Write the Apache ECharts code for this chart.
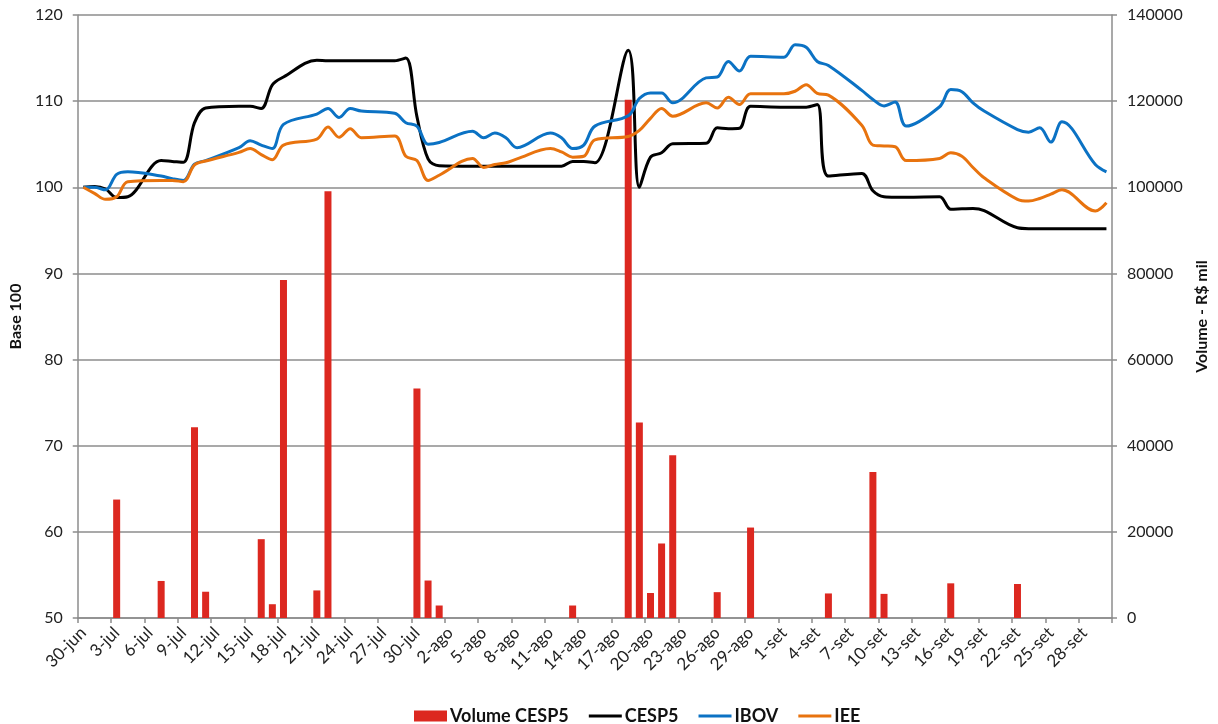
<!DOCTYPE html>
<html>
<head>
<meta charset="utf-8">
<script src="https://cdn.jsdelivr.net/npm/echarts@6/dist/echarts.min.js"></script>
<style>
html,body{margin:0;padding:0;background:#fff;}
#chart{width:1218px;height:724px;}
</style>
</head>
<body>
<div id="chart"></div>
<script>
// Category labels: every day from 30-jun to 30-set
const monthSpans = [['jun', 30, 30], ['jul', 1, 31], ['ago', 1, 31], ['set', 1, 30]];
const categories = [];
monthSpans.forEach(function (m) { for (let d = m[1]; d <= m[2]; d++) categories.push(d + '-' + m[0]); });

// Each row = one week Mon..Sun (weekends have no trading data)
const volumeCESP5 = [
  null, null, null, 27500, null, null, null,
  8600, null, null, 44300, 6100, null, null,
  null, null, 18300, 3200, 78500, null, null,
  6400, 99100, null, null, null, null, null,
  null, null, 53300, 8700, 2900, null, null,
  null, null, null, null, null, null, null,
  null, null, 2900, null, null, null, null,
  120300, 45400, 5800, 17300, 37800, null, null,
  null, 6000, null, null, 21000, null, null,
  null, null, null, null, 5700, null, null,
  null, 33900, 5600, null, null, null, null,
  null, 8050, null, null, null, null, null,
  7900, null, null, null, null, null, null,
  null, null
];
const cesp5 = [
  100.0, 100.1, 99.8, 98.8, 98.9, null, null,
  103.1, 103.0, 102.9, 107.5, 109.2, null, null,
  109.4, 109.4, 109.15, 111.9, 112.8, null, null,
  114.75, 114.7, 114.7, 114.7, 114.7, null, null,
  114.7, 115.0, 108.2, 103.3, 102.5, null, null,
  102.45, 102.45, 102.45, 102.45, 102.45, null, null,
  102.45, 102.45, 103.0, 103.0, 102.85, null, null,
  115.9, 100.0, 103.5, 104.0, 105.05, null, null,
  105.1, 106.9, 106.8, 106.85, 109.4, null, null,
  109.3, 109.3, 109.3, 109.6, 101.3, null, null,
  101.6, 99.6, 98.9, 98.85, 98.85, null, null,
  98.9, 97.45, 97.5, 97.55, 97.3, null, null,
  95.3, 95.2, 95.2, 95.2, 95.2, null, null,
  95.2, 95.2
];
const ibov = [
  100.0, 100.0, 99.7, 101.5, 101.8, null, null,
  101.3, 101.0, 100.8, 102.7, 103.1, null, null,
  104.6, 105.4, 104.9, 104.5, 107.3, null, null,
  108.5, 109.15, 108.1, 109.15, 108.85, null, null,
  108.6, 107.5, 107.1, 105.0, 105.2, null, null,
  106.5, 105.75, 106.3, 105.75, 104.6, null, null,
  106.3, 105.75, 104.5, 104.9, 107.1, null, null,
  108.3, 110.3, 110.95, 110.95, 109.8, null, null,
  112.7, 112.8, 114.6, 113.5, 115.2, null, null,
  115.1, 116.55, 116.25, 114.6, 114.15, null, null,
  111.25, 110.2, 109.45, 109.9, 107.1, null, null,
  109.35, 111.35, 111.1, 109.8, 108.85, null, null,
  106.7, 106.4, 106.9, 105.25, 107.6, null, null,
  102.65, 101.8
];
const iee = [
  100.0, 99.3, 98.6, 98.9, 100.65, null, null,
  100.8, 100.8, 100.65, 102.6, 103.05, null, null,
  104.05, 104.5, 103.8, 103.2, 104.9, null, null,
  105.6, 107.0, 105.8, 106.8, 105.75, null, null,
  105.95, 103.6, 103.1, 100.8, 101.4, null, null,
  103.35, 102.3, 102.65, 102.85, 103.3, null, null,
  104.5, 104.1, 103.5, 103.6, 105.5, null, null,
  105.9, 106.6, 108.0, 109.15, 108.25, null, null,
  109.8, 109.2, 110.45, 109.6, 110.85, null, null,
  110.85, 111.15, 111.9, 110.9, 110.7, null, null,
  107.2, 104.9, 104.8, 104.7, 103.1, null, null,
  103.35, 104.0, 103.6, 102.3, 101.1, null, null,
  98.6, 98.4, 98.7, 99.2, 99.7, null, null,
  97.25, 98.2
];
const leftTicks = { min: 50, max: 120, interval: 10 };
const rightTicks = { min: 0, max: 140000, interval: 20000 };

const FONT = 'Lato, "Open Sans", sans-serif';
const AXIS_GRAY = '#8c8c8c';
const LINE_ICON = 'path://M0,0 L34,0 L34,3.2 L0,3.2 Z';
const chart = echarts.init(document.getElementById('chart'));
const lineCommon = { type: 'line', yAxisIndex: 0, symbol: 'none', smooth: 0.35, connectNulls: true, z: 3 };
chart.setOption({
  animation: false,
  textStyle: { fontFamily: FONT },
  grid: { left: 73, right: 97, top: 15, bottom: 106, containLabel: false },
  legend: {
    top: 702, left: 409, itemGap: 20, itemWidth: 33, itemHeight: 11,
    textStyle: { fontFamily: FONT, fontSize: 18, fontWeight: 'bold', color: '#111', padding: [0, 0, 0, -2] },
    data: [
      { name: 'Volume CESP5', icon: 'rect' },
      { name: 'CESP5', icon: LINE_ICON },
      { name: 'IBOV', icon: LINE_ICON },
      { name: 'IEE', icon: LINE_ICON }
    ]
  },
  xAxis: {
    type: 'category', data: categories, boundaryGap: true,
    axisLine: { lineStyle: { color: AXIS_GRAY, width: 1.5 } },
    axisTick: { show: true, interval: 2, length: 5, lineStyle: { color: AXIS_GRAY, width: 1.5 } },
    axisLabel: { interval: 2, rotate: 45, fontSize: 17, color: '#222', margin: 12, fontFamily: FONT }
  },
  yAxis: [
    {
      type: 'value', min: leftTicks.min, max: leftTicks.max, interval: leftTicks.interval,
      name: 'Base 100', nameLocation: 'middle', nameRotate: 90, nameGap: 52,
      nameTextStyle: { fontFamily: FONT, fontSize: 16, fontWeight: 'bold', color: '#111' },
      axisLine: { show: true, lineStyle: { color: AXIS_GRAY, width: 1.5 } },
      axisTick: { show: true, length: 5, lineStyle: { color: AXIS_GRAY, width: 1.5 } },
      axisLabel: { fontSize: 16, color: '#222', margin: 15, fontFamily: FONT },
      splitLine: { show: true, lineStyle: { color: AXIS_GRAY, width: 1.5 } }
    },
    {
      type: 'value', min: rightTicks.min, max: rightTicks.max, interval: rightTicks.interval,
      position: 'right',
      name: 'Volume - R$ mil', nameLocation: 'middle', nameRotate: 90, nameGap: 82,
      nameTextStyle: { fontFamily: FONT, fontSize: 16, fontWeight: 'bold', color: '#111' },
      axisLine: { show: true, lineStyle: { color: AXIS_GRAY, width: 1.5 } },
      axisTick: { show: true, length: 5, lineStyle: { color: AXIS_GRAY, width: 1.5 } },
      axisLabel: { fontSize: 16, color: '#222', margin: 15, fontFamily: FONT,
        formatter: function (v) { return String(v); } },
      splitLine: { show: false }
    }
  ],
  series: [
    { name: 'Volume CESP5', type: 'bar', yAxisIndex: 1, data: volumeCESP5, barWidth: 7,
      itemStyle: { color: '#dc2820' }, z: 2 },
    Object.assign({ name: 'CESP5', data: cesp5, itemStyle: { color: '#000000' }, lineStyle: { color: '#000000', width: 3 } }, lineCommon),
    Object.assign({ name: 'IBOV', data: ibov, itemStyle: { color: '#0b72c4' }, lineStyle: { color: '#0b72c4', width: 3 } }, lineCommon),
    Object.assign({ name: 'IEE', data: iee, itemStyle: { color: '#e8730e' }, lineStyle: { color: '#e8730e', width: 3 } }, lineCommon)
  ]
});
</script>
</body>
</html>
